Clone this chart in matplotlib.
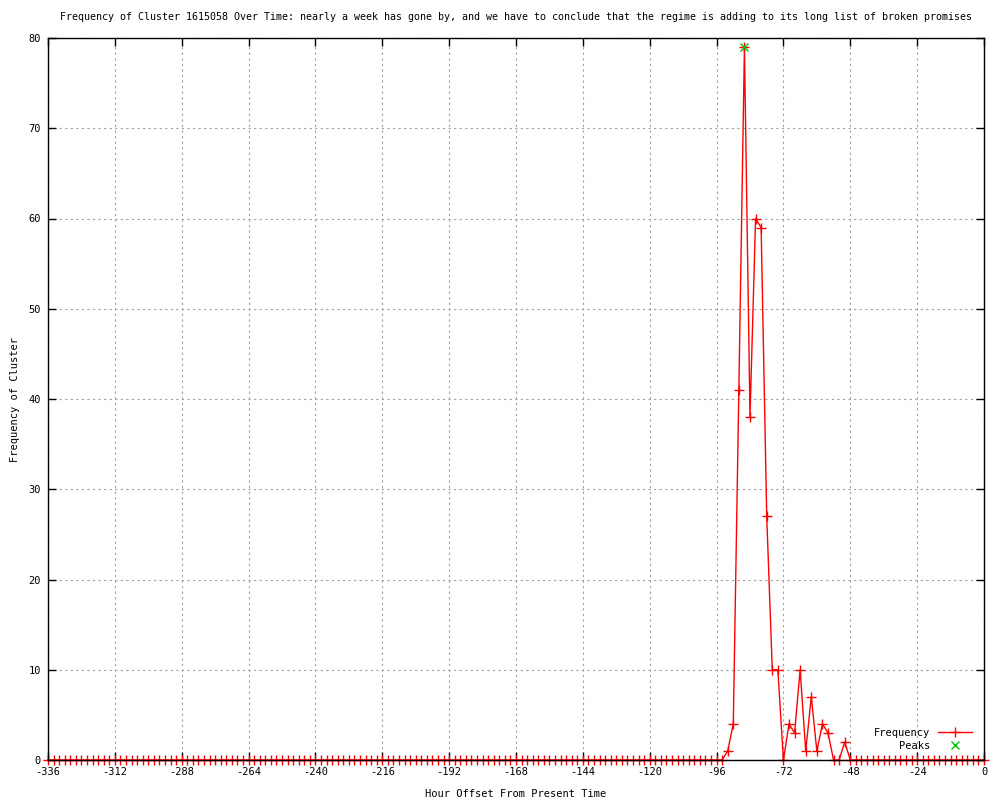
import matplotlib
matplotlib.use("Agg")
import matplotlib.pyplot as plt
import numpy as np

# Hour offsets (every 2 hours from -336 to 0)
hours = list(range(-336, 1, 2))
# Nonzero frequencies (all other hours are 0)
active_hours = [-92, -90, -88, -86, -84, -82, -80, -78, -76, -74, -72,
                -70, -68, -66, -64, -62, -60, -58, -56, -54, -52, -50, -48]
active_freq = [1, 4, 41, 79, 38, 60, 59, 27, 10, 10, 0,
               4, 3, 10, 1, 7, 1, 4, 3, 0, 0, 2, 0]
freq_map = dict(zip(active_hours, active_freq))
frequency = [freq_map.get(h, 0) for h in hours]

peak_hours = [-86]
peak_values = [79]

x_ticks = list(range(-336, 1, 24))
y_ticks = list(range(0, 81, 10))

title = ("Frequency of Cluster 1615058 Over Time: nearly a week has gone by, and we have to "
         "conclude that the regime is adding to its long list of broken promises")

plt.rcParams['font.family'] = ['DejaVu Sans Mono']
plt.rcParams['axes.unicode_minus'] = False
fig = plt.figure(figsize=(10, 8), dpi=100)
ax = fig.add_axes([0.048, 0.05, 0.936, 0.9025])

ax.plot(hours, frequency, color='red', linewidth=1, marker='+', markersize=7,
        markeredgewidth=1, label='Frequency', clip_on=False, zorder=2)
ax.plot(peak_hours, peak_values, linestyle='none', color='#00c000', marker='x',
        markersize=6, markeredgewidth=1, label='Peaks', clip_on=False, zorder=3)

ax.set_xlim(-336, 0)
ax.set_ylim(0, 80)
ax.set_xticks(x_ticks)
ax.set_yticks(y_ticks)
ax.tick_params(direction='in', length=6, width=1, top=True, right=True,
               labelsize=7.5, pad=5)
ax.grid(True, color='#a0a0a0', linestyle=(0, (2, 3)), linewidth=0.8)
for s in ax.spines.values():
    s.set_linewidth(1)
    s.set_zorder(4)

ax.set_title(title, fontsize=7.2, pad=13)
ax.set_xlabel('Hour Offset From Present Time', fontsize=7.5, labelpad=9)
ax.set_ylabel('Frequency of Cluster', fontsize=7.5, labelpad=5)
ax.yaxis.set_label_coords(-0.03, 0.5)

leg = ax.legend(loc='lower right', frameon=False, markerfirst=False, fontsize=7.5,
                handlelength=3.2, borderaxespad=0.5, labelspacing=0.25,
                bbox_to_anchor=(0.997, 0.0))
for t in leg.get_texts():
    t.set_ha('right')

fig.savefig('out.png', dpi=100)
